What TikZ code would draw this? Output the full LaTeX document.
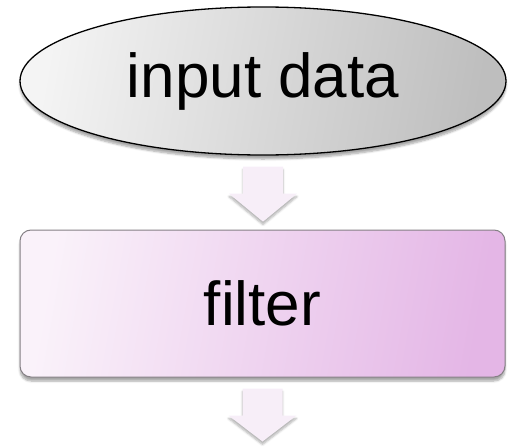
\documentclass[tikz,border=0pt]{standalone}
\usepackage{fontspec}
\setmainfont{Liberation Sans}
\usetikzlibrary{shapes.geometric,shadows.blur}

\definecolor{ellLeft}{HTML}{F4F4F4}
\definecolor{ellRight}{HTML}{BEBEBE}
\definecolor{boxLeft}{HTML}{FAF2FA}
\definecolor{boxRight}{HTML}{E4B6E6}
\definecolor{boxEdge}{HTML}{858085}
\definecolor{arrowFill}{HTML}{F7EEF8}

\tikzset{
  bigtext/.style={font=\fontsize{62}{70}\selectfont, text=black},
  startnode/.style={ellipse, draw=black, line width=1.3pt, inner sep=0pt,
    minimum width=486pt, minimum height=148pt,
    left color=ellLeft, right color=ellRight, shading angle=80,
    blur shadow={shadow xshift=0pt, shadow yshift=-4pt, shadow blur steps=6,
      shadow opacity=35}},
  procnode/.style={rectangle, rounded corners=11pt, draw=boxEdge, line width=1pt,
    inner sep=0pt, minimum width=485pt, minimum height=147pt,
    left color=boxLeft, right color=boxRight, shading angle=80,
    blur shadow={shadow xshift=0pt, shadow yshift=-4pt, shadow blur steps=6,
      shadow opacity=35}},
  blockarrow/.style={fill=arrowFill, draw=none,
    blur shadow={shadow xshift=0pt, shadow yshift=-3pt, shadow blur steps=5,
      shadow opacity=30}},
}

\begin{document}
\begin{tikzpicture}[x=1pt, y=-1pt]
  \useasboundingbox (0,0) rectangle (514,447);

  \node[startnode, bigtext] (input) at (263,81) {input data};
  \node[procnode, bigtext] (filter) at (262.5,303.5) {filter};

  % block arrow between the two steps
  \coordinate (a1) at ([yshift=-11pt]input.south);
  \fill[blockarrow, shift={(a1)}]
    (-20,0) -- (20,0) -- (20,27) -- (34,27) -- (0,55) -- (-34,27) -- (-20,27) -- cycle;

  % block arrow leaving the filter
  \coordinate (a2) at ([yshift=-11pt]filter.south);
  \fill[blockarrow, shift={(a2)}]
    (-20,0) -- (20,0) -- (20,27) -- (34,27) -- (0,53) -- (-34,27) -- (-20,27) -- cycle;
\end{tikzpicture}
\end{document}
